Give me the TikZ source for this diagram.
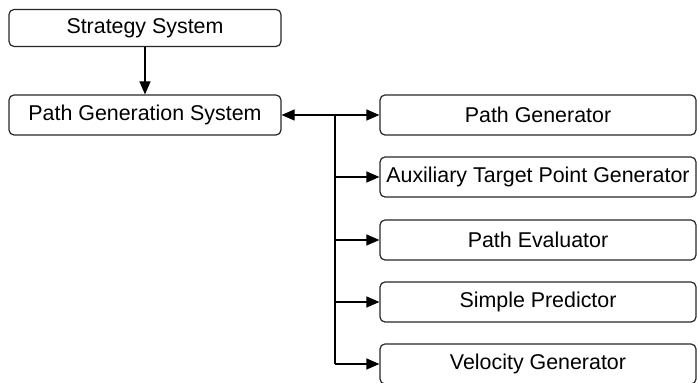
\documentclass[tikz,border=0pt]{standalone}
\usepackage{fontspec}
\setmainfont{Liberation Sans}
\usetikzlibrary{positioning, calc, arrows.meta}

\begin{document}
\begin{tikzpicture}[x=0.5pt, y=-0.5pt,
    box/.style={rectangle, draw=black!85, line width=0.6pt, rounded corners=2.5pt, minimum width=136pt, minimum height=18.5pt, align=center, font=\fontsize{10.7}{12}\selectfont, inner sep=1pt},
    subbox/.style={box, minimum width=158pt, minimum height=20pt},
    arrow/.style={-{Triangle[length=6.5pt, width=5.5pt]}, line width=0.6pt},
    line/.style={line width=0.6pt}
]
    \useasboundingbox (0,0) rectangle (697,383);

    \node[box] (strategy) at (145, 28) {Strategy System};
    \node[box, minimum height=20pt] (pathsys) at (145, 115) {Path Generation System};

    \draw[arrow] (strategy) -- (pathsys);

    \node[subbox] (pathgen) at (538, 115) {Path Generator};
    \node[subbox] (auxgen) at (538, 177) {Auxiliary Target Point Generator};
    \node[subbox] (patheval) at (538, 240) {Path Evaluator};
    \node[subbox] (predictor) at (538, 302) {Simple Predictor};
    \node[subbox] (velgen) at (538, 364) {Velocity Generator};

    \coordinate (split) at (335, 115);
    \coordinate (trunkend) at (335, 364);

    \draw[arrow] (split) -- (pathsys.east);
    \draw[arrow] (split) -- (pathgen.west);
    \draw[line] (split) -- (trunkend);
    \draw[arrow] (split |- auxgen.west) -- (auxgen.west);
    \draw[arrow] (split |- patheval.west) -- (patheval.west);
    \draw[arrow] (split |- predictor.west) -- (predictor.west);
    \draw[arrow] (trunkend) -- (velgen.west);

\end{tikzpicture}
\end{document}
